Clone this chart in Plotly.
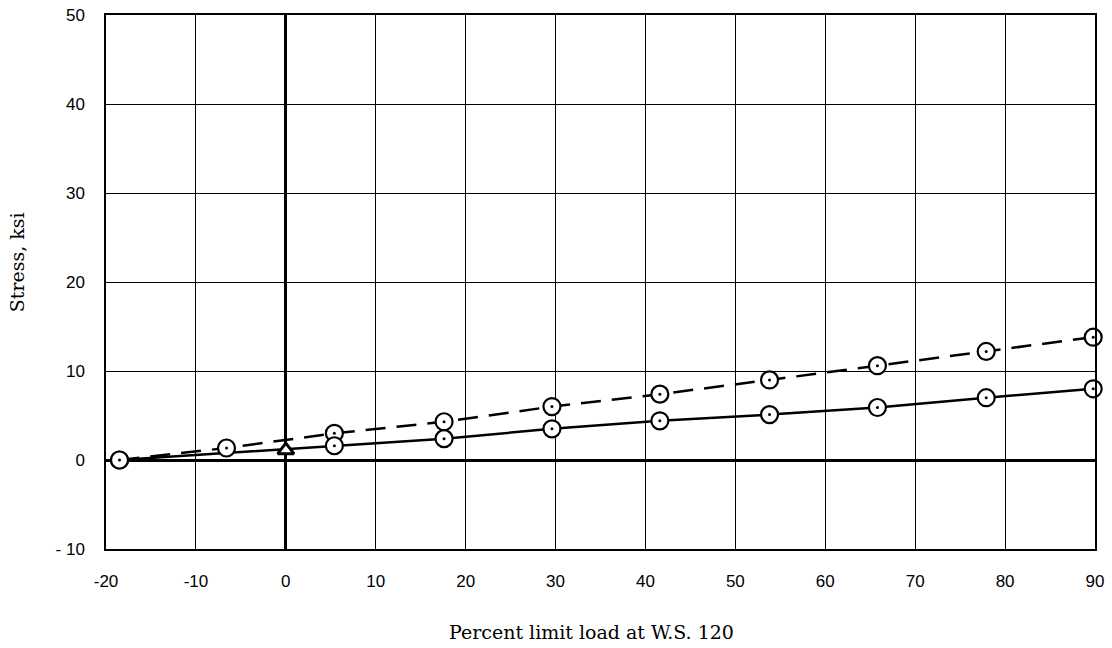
import plotly.graph_objects as go

# Data
dashed_x = [-18.5, -6.6, 5.4, 17.6, 29.6, 41.6, 53.8, 65.8, 77.9, 89.8]
dashed_y = [0.0, 1.35, 3.0, 4.3, 6.0, 7.4, 9.0, 10.6, 12.2, 13.8]
solid_x = [-18.5, 5.4, 17.6, 29.6, 41.6, 53.8, 65.8, 77.9, 89.8]
solid_y = [0.0, 1.6, 2.4, 3.5, 4.4, 5.1, 5.9, 7.0, 8.0]
tri_x = [0.0]
tri_y = [1.1]

x_ticks = [-20, -10, 0, 10, 20, 30, 40, 50, 60, 70, 80, 90]
x_labels = ["-20", "-10", "0", "10", "20", "30", "40", "50", "60", "70", "80", "90"]
y_ticks = [-10, 0, 10, 20, 30, 40, 50]
y_labels = ["- 10", "0", "10", "20", "30", "40", "50"]
x_title = "Percent limit load at W.S. 120"
y_title = "Stress, ksi"

fig = go.Figure()

# lines
fig.add_trace(go.Scatter(x=dashed_x, y=dashed_y, mode="lines",
                         line=dict(color="black", width=2.5, dash="20px,11px"),
                         showlegend=False, hoverinfo="skip"))
fig.add_trace(go.Scatter(x=solid_x, y=solid_y, mode="lines",
                         line=dict(color="black", width=2.5),
                         showlegend=False, hoverinfo="skip"))

# open circle markers with center dots
for xs, ys in [(dashed_x, dashed_y), (solid_x, solid_y)]:
    fig.add_trace(go.Scatter(x=xs, y=ys, mode="markers", cliponaxis=False,
                             marker=dict(symbol="circle", size=17, color="white",
                                         line=dict(color="black", width=2.2)),
                             showlegend=False))
    fig.add_trace(go.Scatter(x=xs, y=ys, mode="markers", cliponaxis=False,
                             marker=dict(symbol="circle", size=3, color="black"),
                             showlegend=False, hoverinfo="skip"))

fig.add_trace(go.Scatter(x=tri_x, y=tri_y, mode="markers",
                         marker=dict(symbol="triangle-up", size=14, color="white",
                                     line=dict(color="black", width=3)),
                         showlegend=False))

tick_font = dict(family="Liberation Sans, Arial, sans-serif", size=17, color="black")
title_font = dict(family="DejaVu Serif, serif", size=19, color="black")

fig.update_xaxes(range=[-20, 90], tickvals=x_ticks, ticktext=x_labels, automargin=False,
                 showgrid=True, gridcolor="black", gridwidth=1.3,
                 zeroline=True, zerolinecolor="black", zerolinewidth=3,
                 showline=True, linecolor="black", linewidth=1.5, mirror=True,
                 ticks="", ticklabelstandoff=16, tickfont=tick_font,
                 ticklabeloverflow="allow")
fig.update_yaxes(range=[-10, 50], tickvals=y_ticks, ticktext=y_labels, automargin=False,
                 showgrid=True, gridcolor="black", gridwidth=1.3,
                 zeroline=True, zerolinecolor="black", zerolinewidth=3,
                 showline=True, linecolor="black", linewidth=1.5, mirror=True,
                 ticks="", ticklabelstandoff=16, tickfont=tick_font,
                 ticklabeloverflow="allow")

# axis titles placed as annotations (positions relative to the plot area)
fig.add_annotation(text=x_title, xref="paper", yref="paper", x=0.491, y=-0.155,
                   xanchor="center", yanchor="middle", showarrow=False, font=title_font)
fig.add_annotation(text=y_title, xref="paper", yref="paper", x=-0.09, y=0.537,
                   xanchor="center", yanchor="middle", showarrow=False, textangle=-90,
                   font=title_font)

fig.update_layout(width=1112, height=648, plot_bgcolor="white", paper_bgcolor="white",
                  margin=dict(l=106, r=17, t=15, b=99), showlegend=False)

fig.write_html("out.html", config={"displayModeBar": False},
               post_script="document.body.style.margin='0';document.body.style.overflow='hidden';")
